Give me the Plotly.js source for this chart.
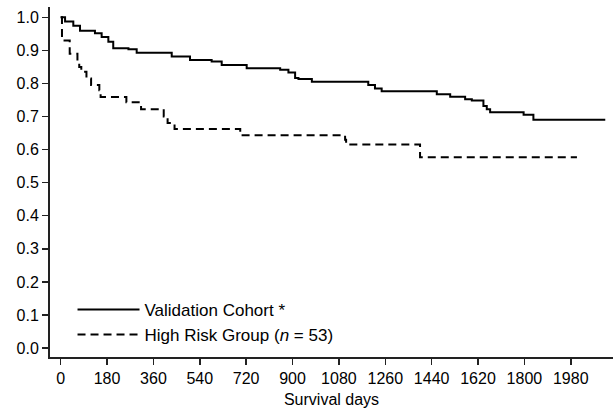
<!DOCTYPE html>
<html>
<head>
<meta charset="utf-8">
<script src="https://cdn.plot.ly/plotly-3.0.1.min.js"></script>
<style>html,body{margin:0;padding:0;background:#fff;}#chart{width:614px;height:413px;}</style>
</head>
<body>
<div id="chart"></div>
<script>
// Validation cohort (solid)
const valDays = [0, 17, 49, 75, 133, 159, 185, 204, 263, 295, 431, 502, 586, 625, 722, 852, 884, 910, 923, 975, 1194, 1220, 1246, 1460, 1512, 1570, 1596, 1641, 1654, 1667, 1797, 1835, 2114];
const valSurv = [1.0, 0.987, 0.974, 0.959, 0.952, 0.940, 0.926, 0.906, 0.903, 0.893, 0.881, 0.871, 0.866, 0.856, 0.846, 0.841, 0.833, 0.816, 0.813, 0.805, 0.795, 0.785, 0.776, 0.767, 0.760, 0.752, 0.748, 0.732, 0.722, 0.713, 0.705, 0.690, 0.690];
// High risk group (dashed)
const hrDays = [0, 5, 35, 65, 72, 80, 100, 118, 150, 155, 255, 312, 400, 415, 442, 697, 1104, 1108, 1395, 2004];
const hrSurv = [1.0, 0.930, 0.890, 0.865, 0.850, 0.835, 0.815, 0.795, 0.779, 0.759, 0.743, 0.722, 0.700, 0.680, 0.662, 0.643, 0.630, 0.615, 0.577, 0.577];
const xTicks = [0, 180, 360, 540, 720, 900, 1080, 1260, 1440, 1620, 1800, 1980];
const yTicks = [0.0, 0.1, 0.2, 0.3, 0.4, 0.5, 0.6, 0.7, 0.8, 0.9, 1.0];
const names = ['Validation Cohort *', 'High Risk Group (<i>n</i> = 53)'];

const font = {family: 'Liberation Sans, Arial, sans-serif', size: 16, color: '#000'};
const legFont = {family: 'Liberation Sans, Arial, sans-serif', size: 17, color: '#000'};
const traces = [
  {x: valDays, y: valSurv, name: names[0], mode: 'lines', line: {shape: 'hv', color: '#000', width: 2}},
  {x: hrDays, y: hrSurv, name: names[1], mode: 'lines', line: {shape: 'hv', color: '#000', width: 2, dash: '8px,5px'}}
];
const layout = {
  width: 614, height: 413,
  margin: {l: 50, r: 1, t: 7, b: 56},
  paper_bgcolor: '#fff', plot_bgcolor: '#fff',
  font: font,
  showlegend: true,
  legend: {x: 0.04, y: 0.186, xanchor: 'left', yanchor: 'top', bgcolor: 'rgba(0,0,0,0)', font: legFont, itemwidth: 62},
  xaxis: {
    range: [-41.5, 2144], tickvals: xTicks, ticktext: xTicks.map(String),
    showgrid: false, zeroline: false, showline: true, linecolor: '#222', linewidth: 2,
    ticks: 'outside', ticklen: 6, tickwidth: 1.5, tickcolor: '#222',
    title: {text: 'Survival days', font: font, standoff: 8}
  },
  yaxis: {
    range: [-0.027, 1.031], tickvals: yTicks, ticktext: yTicks.map(v => v.toFixed(1)),
    showgrid: false, zeroline: false, showline: true, linecolor: '#222', linewidth: 2,
    ticks: 'outside', ticklen: 6, tickwidth: 1.5, tickcolor: '#222'
  }
};
Plotly.newPlot('chart', traces, layout, {displayModeBar: false, staticPlot: true});
</script>
</body>
</html>
